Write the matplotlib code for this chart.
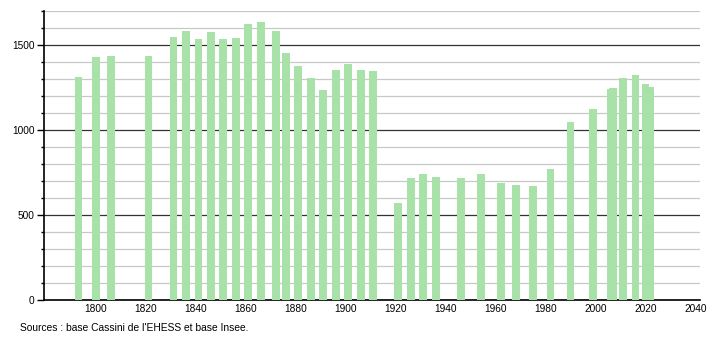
import matplotlib
matplotlib.use('Agg')
import matplotlib.pyplot as plt
from matplotlib.ticker import MultipleLocator

# population per census year
years = [1793, 1800, 1806, 1821, 1831, 1836, 1841, 1846, 1851, 1856,
         1861, 1866, 1872, 1876, 1881, 1886, 1891, 1896, 1901, 1906,
         1911, 1921, 1926, 1931, 1936, 1946, 1954, 1962, 1968, 1975,
         1982, 1990, 1999, 2006, 2007, 2011, 2016, 2020, 2022]
population = [1310, 1427, 1437, 1435, 1545, 1580, 1533, 1574, 1533, 1539,
              1624, 1633, 1580, 1451, 1375, 1304, 1235, 1351, 1386, 1351,
              1345, 571, 716, 741, 724, 716, 741, 688, 676, 672,
              771, 1047, 1124, 1239, 1249, 1306, 1322, 1271, 1251]
x_ticks = list(range(1800, 2041, 20))
source = "Sources : base Cassini de l'EHESS et base Insee."

plt.rcParams['font.family'] = ['Liberation Sans', 'DejaVu Sans']

fig = plt.figure(figsize=(7.1, 3.4), dpi=100)
ax = fig.add_axes([44 / 710, 40 / 340, 656 / 710, 289 / 340])

ax.bar(years, population, width=3.1, color='#a9e2a9', zorder=3)

ax.set_xlim(1779.2, 2041.8)
ax.set_ylim(0, 1700)
ax.set_xticks(x_ticks)
ax.tick_params(axis='x', length=0, labelsize=7.3, pad=3)
ax.yaxis.set_major_locator(MultipleLocator(500))
ax.yaxis.set_minor_locator(MultipleLocator(100))
ax.tick_params(axis='y', which='major', length=5, width=1, labelsize=7.3, pad=2)
ax.tick_params(axis='y', which='minor', length=2.5, width=1)

# light grey lines every 100, dark ones every 500
ax.grid(axis='y', which='minor', color='#c8c8c8', linewidth=0.9, zorder=0)
ax.grid(axis='y', which='major', color='#333333', linewidth=0.9, zorder=1)

for side in ['top', 'right']:
    ax.spines[side].set_visible(False)
ax.spines['left'].set_linewidth(1.2)
ax.spines['bottom'].set_linewidth(1.2)

fig.text(20 / 710, 1 - 328 / 340, source, fontsize=7.4, va='center', ha='left')

fig.savefig('out.png', dpi=100)
